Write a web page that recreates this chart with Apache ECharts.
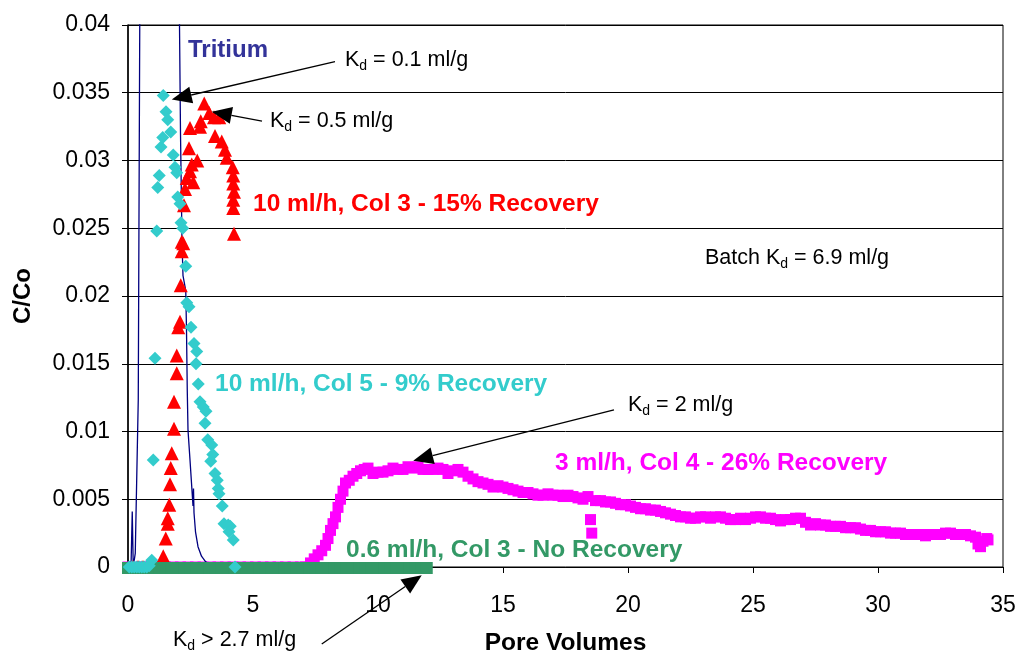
<!DOCTYPE html>
<html>
<head>
<meta charset="utf-8">
<script src="https://cdn.jsdelivr.net/npm/echarts@6/dist/echarts.min.js"></script>
<style>
html,body{margin:0;padding:0;background:#fff;}
#chart{width:1020px;height:655px;}
</style>
</head>
<body>
<div id="chart"></div>
<script>
// ---------- DATA ----------
const X_RANGE = [0, 35, 5];          // min, max, interval (Pore Volumes)
const Y_RANGE = [0, 0.04, 0.005];    // min, max, interval (C/Co)

// Tritium (navy line) – goes off the top of the chart
const TRITIUM = [
  [0,0],[0.12,0],[0.17,0.0041],[0.21,0],[0.27,0],[0.29,0.001],[0.41,0.0123],[0.47,0.04],[0.52,0.08],
  [1.2,0.8],[1.95,0.1],[2.06,0.04],[2.1,0.032],[2.16,0.024],[2.2,0.0215],[2.31,0.0204],[2.34,0.0175],
  [2.37,0.0131],[2.4,0.0101],[2.48,0.0079],[2.54,0.0062],[2.6,0.0045],[2.62,0.0058],[2.64,0.004],
  [2.7,0.0026],[2.8,0.0015],[2.94,0.0008],[3.1,0.0004],[3.3,0.0001],[3.5,0]
];

// 10 ml/h, Col 3 (red triangles)
const RED_COL3 = [
  [0.2,0],[0.4,0],[0.6,0],[0.8,0],[1.0,0],[1.2,0],
  [1.41,0.0008],[1.51,0.0021],[1.59,0.0032],[1.59,0.0036],[1.65,0.0046],[1.68,0.0061],[1.71,0.0073],
  [1.75,0.0084],[1.84,0.0102],[1.84,0.0122],[1.95,0.0143],[1.95,0.0156],[2.01,0.0177],[2.08,0.0181],
  [2.11,0.0208],[2.15,0.0233],[2.15,0.024],[2.21,0.0239],[2.24,0.0267],[2.28,0.0279],[2.35,0.0287],
  [2.61,0.0284],[2.48,0.0292],[2.55,0.0297],[2.77,0.03],[2.44,0.0309],[2.48,0.0324],[2.88,0.0325],
  [2.91,0.0329],[3.05,0.0342],[3.25,0.0335],[3.44,0.0332],[3.65,0.0332],[3.48,0.0318],[3.75,0.0314],
  [3.88,0.0308],[3.95,0.0302],[4.19,0.0295],[4.21,0.0289],[4.21,0.0283],[4.24,0.0277],[4.21,0.0271],
  [4.21,0.0265],[4.24,0.0246]
];

// 10 ml/h, Col 5 (cyan diamonds)
const CYAN_COL5 = [
  [0.05,0],[0.15,0],[0.25,0],[0.35,0],[0.45,0],[0.55,0],[0.65,0],[0.75,0],[0.85,0.0001],[0.95,0.0005],
  [1.01,0.0079],[1.08,0.0154],[1.15,0.0248],[1.19,0.028],[1.25,0.0289],[1.32,0.031],[1.39,0.0317],
  [1.41,0.0348],[1.52,0.0336],[1.59,0.033],[1.71,0.0321],[1.81,0.0304],[1.88,0.0295],[1.95,0.0291],
  [1.99,0.0273],[2.08,0.0268],[2.12,0.0254],[2.19,0.025],[2.31,0.0222],[2.35,0.0195],[2.44,0.0192],
  [2.52,0.0177],[2.64,0.0165],[2.75,0.0159],[2.72,0.015],[2.81,0.0135],[2.88,0.0122],[3.01,0.0118],
  [3.12,0.0115],[3.08,0.0106],[3.19,0.0094],[3.35,0.009],[3.39,0.0083],[3.31,0.0078],[3.48,0.0069],
  [3.57,0.0064],[3.61,0.0058],[3.64,0.0054],[3.77,0.0045],[3.84,0.0032],[4.01,0.0031],[4.09,0.003],
  [4.04,0.0026],[4.21,0.002],[4.28,0]
];

// 3 ml/h, Col 4 (magenta squares)
const MAG_COL4 = [
  [0,0],[0.3,0],[0.6,0],[0.9,0],[1.2,0],[1.5,0],[1.8,0],[2.1,0],[2.4,0],[2.7,0],[3.0,0],[3.3,0],[3.6,0],
  [3.9,0],[4.2,0],[4.5,0],[4.8,0],[5.1,0],[5.4,0],[5.7,0],[6.0,0],[6.3,0],[6.6,0],[6.9,0],[7.1,0],
  [7.3,0.0003],[7.45,0.0006],[7.6,0.0009],[7.75,0.0012],[7.9,0.0016],[8.0,0.0021],[8.1,0.0027],[8.2,0.0032],
  [8.3,0.0037],[8.4,0.0044],[8.5,0.005],[8.6,0.0056],[8.7,0.0062],[8.85,0.0064],[9.0,0.0067],[9.15,0.0069],
  [9.3,0.0071],[9.45,0.0072],[9.6,0.0073],[9.8,0.0069],[10.0,0.007],[10.2,0.007],[10.4,0.0071],[10.6,0.0073],
  [10.8,0.0072],[11.0,0.0072],[11.2,0.0074],[11.4,0.0073],[11.6,0.0074],[11.8,0.0072],[12.0,0.0072],
  [12.2,0.0072],[12.4,0.0073],[12.6,0.0072],[12.8,0.0069],[13.0,0.0071],[13.2,0.0072],[13.4,0.007],
  [13.6,0.0067],[13.8,0.0065],[14.0,0.0063],[14.2,0.0062],[14.4,0.0061],[14.6,0.0059],[14.8,0.006],
  [15.0,0.0059],[15.2,0.0058],[15.4,0.0057],[15.6,0.0056],[15.8,0.0055],[16.0,0.0055],[16.2,0.0054],
  [16.4,0.0053],[16.6,0.0053],[16.8,0.0054],[17.0,0.0053],[17.2,0.0053],[17.4,0.0052],[17.6,0.0053],
  [17.8,0.0052],[18.0,0.0051],[18.2,0.005],[18.4,0.0052],[18.5,0.0035],[18.55,0.0025],[18.7,0.0049],
  [18.9,0.0049],[19.1,0.0048],[19.3,0.0048],[19.5,0.0047],[19.7,0.0046],[19.9,0.0046],[20.1,0.0045],
  [20.3,0.0044],[20.5,0.0043],[20.7,0.0043],[20.9,0.0042],[21.1,0.0042],[21.3,0.0041],[21.5,0.004],
  [21.7,0.0039],[21.9,0.0038],[22.1,0.0037],[22.3,0.0037],[22.5,0.0036],[22.7,0.0036],[22.9,0.0037],
  [23.1,0.0037],[23.3,0.0036],[23.5,0.0037],[23.7,0.0037],[23.9,0.0036],[24.1,0.0035],[24.3,0.0035],
  [24.5,0.0036],[24.7,0.0035],[24.9,0.0036],[25.1,0.0037],[25.3,0.0037],[25.5,0.0036],[25.7,0.0036],
  [25.9,0.0035],[26.1,0.0034],[26.3,0.0035],[26.5,0.0035],[26.7,0.0036],[26.9,0.0036],[27.1,0.0033],
  [27.3,0.0031],[27.5,0.0032],[27.7,0.0031],[27.9,0.0031],[28.1,0.003],[28.3,0.003],[28.5,0.003],
  [28.7,0.0029],[28.9,0.0029],[29.1,0.0029],[29.3,0.0028],[29.5,0.0027],[29.7,0.0027],[29.9,0.0026],
  [30.1,0.0026],[30.3,0.0026],[30.5,0.0025],[30.7,0.0025],[30.9,0.0025],[31.1,0.0024],[31.3,0.0024],
  [31.5,0.0024],[31.7,0.0024],[31.9,0.0023],[32.1,0.0024],[32.3,0.0024],[32.5,0.0024],[32.7,0.0025],
  [32.9,0.0025],[33.1,0.0024],[33.3,0.0024],[33.5,0.0024],[33.7,0.0023],[33.9,0.0022],[34.0,0.0017],
  [34.1,0.0015],[34.2,0.0019],[34.35,0.0021],[34.4,0.002]
];

// 0.6 ml/h, Col 3 (green, all at zero)
const GREEN_X = [0,0.25,0.5,0.75,1,1.25,1.5,1.75,2,2.25,2.5,2.75,3,3.25,3.5,3.75,4,4.25,4.5,4.75,5,5.25,5.5,5.75,
  6,6.25,6.5,6.75,7,7.25,7.5,7.75,8,8.25,8.5,8.75,9,9.25,9.5,9.75,10,10.25,10.5,10.75,11,11.25,11.5,11.75,11.95];
const GREEN_Y = [0,0,0,0,0,0,0,0,0,0,0,0,0,0,0,0,0,0,0,0,0,0,0,0,0,0,0,0,0,0,0,0,0,0,0,0,0,0,0,0,0,0,0,0,0,0,0,0,0];

// Annotation arrows: [startX, startY, tipX, tipY] in data units
const ARROWS = [
  [8.28, 0.0373, 1.75, 0.0345],
  [5.36, 0.0329, 3.35, 0.0336],
  [19.44, 0.0116, 11.41, 0.00785],
  [7.75, -0.00568, 11.75, -0.0006]
];

// ---------- CHART ----------
const FONT = '"Liberation Sans", Arial, sans-serif';
const chart = echarts.init(document.getElementById('chart'));

const option = {
  animation: false,
  backgroundColor: '#fff',
  grid: { left: 128, right: 17, top: 25, bottom: 88, containLabel: false, outerBoundsMode: 'none',
    show: true, borderColor: '#000', borderWidth: 1, backgroundColor: 'transparent' },
  xAxis: {
    type: 'value', min: X_RANGE[0], max: X_RANGE[1], interval: X_RANGE[2],
    axisLine: { show: true, onZero: false, lineStyle: { color: '#000', width: 1 } },
    axisTick: { show: true, length: 6, lineStyle: { color: '#000' } },
    splitLine: { show: false },
    axisLabel: { color: '#000', fontSize: 23, fontFamily: FONT, margin: 27 },
    name: 'Pore Volumes', nameLocation: 'middle', nameGap: 64,
    nameTextStyle: { color: '#000', fontSize: 24.5, fontWeight: 'bold', fontFamily: FONT }
  },
  yAxis: {
    type: 'value', min: Y_RANGE[0], max: Y_RANGE[1], interval: Y_RANGE[2],
    axisLine: { show: true, lineStyle: { color: '#000', width: 1.5 } },
    axisTick: { show: true, length: 6, lineStyle: { color: '#000' } },
    splitLine: { show: true, lineStyle: { color: '#000', width: 1 } },
    axisLabel: { color: '#000', fontSize: 23, fontFamily: FONT, margin: 18 },
    name: 'C/Co', nameLocation: 'middle', nameGap: 93,
    nameTextStyle: { color: '#000', fontSize: 24, fontWeight: 'bold', fontFamily: FONT }
  },
  series: [
    { name: '3 ml/h, Col 4', type: 'scatter', data: MAG_COL4, symbol: 'rect', symbolSize: 11,
      itemStyle: { color: '#FF00FF', opacity: 1 }, z: 2 },
    { name: 'Tritium', type: 'line', data: TRITIUM, symbol: 'none', showSymbol: false, clip: true,
      lineStyle: { color: '#000080', width: 1.3 }, z: 3 },
    { name: '10 ml/h, Col 3', type: 'scatter', data: RED_COL3, symbol: 'triangle', symbolSize: 14,
      itemStyle: { color: '#FF0000', opacity: 1 }, z: 4 },
    { name: '0.6 ml/h, Col 3', type: 'scatter', data: GREEN_X.map((x, i) => [x, GREEN_Y[i]]),
      symbol: 'rect', symbolSize: [12, 12], symbolOffset: [0, 1], itemStyle: { color: '#339966', opacity: 1 }, z: 5 },
    { name: '10 ml/h, Col 5', type: 'scatter', data: CYAN_COL5, symbol: 'diamond', symbolSize: 13,
      itemStyle: { color: '#33CCCC', opacity: 1 }, z: 6 }
  ]
};
chart.setOption(option);

// ---------- ANNOTATIONS ----------
function kdText(before, after) {
  return (before ? '{n|' + before + '}' : '') + '{n|K}{s|d}{n|' + after + '}';
}
const RICH = {
  n: { fontSize: 21.5, fontFamily: FONT, fill: '#000', lineHeight: 26 },
  s: { fontSize: 14, fontFamily: FONT, fill: '#000', lineHeight: 13, verticalAlign: 'bottom' }
};
function plainText(x, y, text) {
  return { type: 'text', x: x, y: y, z: 50,
    style: { text: text, rich: RICH, verticalAlign: 'middle', align: 'left', fill: '#000' } };
}
function boldText(x, y, text, color, size) {
  return { type: 'text', x: x, y: y, z: 50,
    style: { text: text, fill: color, fontSize: size || 24.5, fontWeight: 'bold', fontFamily: FONT,
      verticalAlign: 'middle', align: 'left' } };
}

const graphics = [
  boldText(188, 50, 'Tritium', '#333399', 24),
  plainText(345, 60, kdText('', ' = 0.1 ml/g')),
  plainText(270, 121, kdText('', ' = 0.5 ml/g')),
  boldText(253, 204, '10 ml/h, Col 3 - 15% Recovery', '#FF0000'),
  plainText(705, 258, kdText('Batch ', ' = 6.9 ml/g')),
  boldText(215, 384, '10 ml/h, Col 5 - 9% Recovery', '#33CCCC'),
  plainText(628, 405, kdText('', ' = 2 ml/g')),
  boldText(555, 463, '3 ml/h, Col 4 - 26% Recovery', '#FF00FF'),
  boldText(346, 550, '0.6 ml/h, Col 3 - No Recovery', '#339966'),
  plainText(173, 640, kdText('', ' > 2.7 ml/g'))
];

ARROWS.forEach(function (a) {
  const p0 = chart.convertToPixel({ gridIndex: 0 }, [a[0], a[1]]);
  const p1 = chart.convertToPixel({ gridIndex: 0 }, [a[2], a[3]]);
  const dx = p1[0] - p0[0], dy = p1[1] - p0[1];
  const L = Math.sqrt(dx * dx + dy * dy);
  const ux = dx / L, uy = dy / L;
  const head = 20, half = 8.5;
  const bx = p1[0] - ux * head, by = p1[1] - uy * head;
  graphics.push({ type: 'line', z: 60, shape: { x1: p0[0], y1: p0[1], x2: bx, y2: by },
    style: { stroke: '#000', lineWidth: 1.3 } });
  graphics.push({ type: 'polygon', z: 60,
    shape: { points: [[p1[0], p1[1]], [bx - uy * half, by + ux * half], [bx + uy * half, by - ux * half]] },
    style: { fill: '#000' } });
});

chart.setOption({ graphic: graphics });
</script>
</body>
</html>
